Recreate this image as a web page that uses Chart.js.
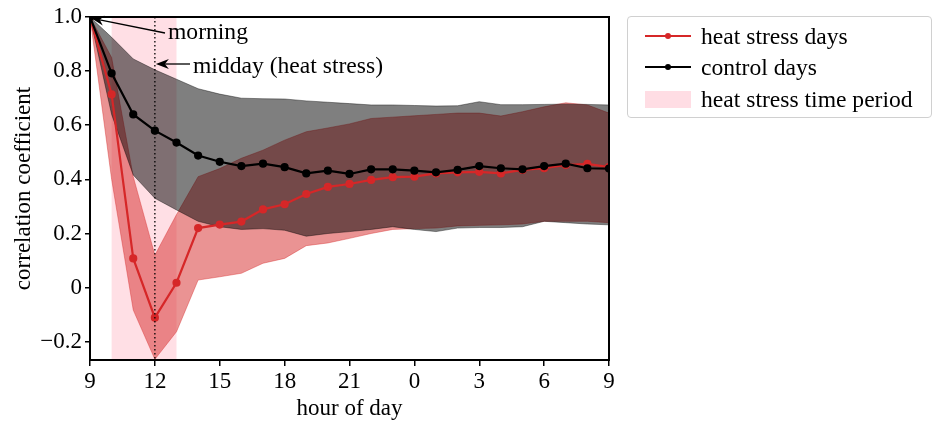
<!DOCTYPE html>
<html>
<head>
<meta charset="utf-8">
<script src="https://cdn.jsdelivr.net/npm/chart.js@4.4.1/dist/chart.umd.min.js"></script>
<style>
  html, body { margin: 0; padding: 0; background: #fff; }
  #wrap { position: relative; width: 935px; height: 423px; }
  canvas { position: absolute; left: 0; top: 0; }
  #legend {
    position: absolute; left: 627px; top: 16px; width: 305px; height: 102px;
    border: 1px solid #d0d0d0; border-radius: 4px; box-sizing: border-box;
    font-family: "Liberation Serif", "Times New Roman", serif; font-size: 23.6px; color: #000;
  }
  .row { position: absolute; left: 0; height: 26px; width: 300px; }
  .row span.txt { position: absolute; left: 73px; top: 0; line-height: 26px; white-space: nowrap; }
  .sample { position: absolute; left: 17px; width: 46px; top: 12px; height: 2.4px; }
  .dot { position: absolute; left: 20px; top: -2px; width: 6px; height: 6px; border-radius: 50%; }
  .patch { position: absolute; left: 17px; width: 46px; top: 5px; height: 17px; background: rgb(255,221,228); }
</style>
</head>
<body>
<div id="wrap">
  <canvas id="c" width="935" height="423"></canvas>
  <div id="legend">
    <div class="row" style="top:6px"><div class="sample" style="background:#d62728"><div class="dot" style="background:#d62728"></div></div><span class="txt">heat stress days</span></div>
    <div class="row" style="top:37px"><div class="sample" style="background:#000"><div class="dot" style="background:#000"></div></div><span class="txt">control days</span></div>
    <div class="row" style="top:69px"><div class="patch"></div><span class="txt">heat stress time period</span></div>
  </div>
</div>
<script>
// hour of day for each sample (from 9 am to 9 am next day)
const hourLabels = [9,10,11,12,13,14,15,16,17,18,19,20,21,22,23,0,1,2,3,4,5,6,7,8,9];

// heat stress days
const heatMean  = [1.0,0.714,0.108,-0.111,0.018,0.22,0.233,0.244,0.289,0.308,0.346,0.372,0.383,0.398,0.408,0.41,0.422,0.426,0.428,0.422,0.435,0.441,0.453,0.457,0.445];
const heatUpper = [1.0,0.85,0.41,0.12,0.27,0.41,0.44,0.478,0.508,0.545,0.576,0.59,0.605,0.625,0.63,0.635,0.64,0.645,0.645,0.634,0.65,0.668,0.683,0.675,0.645];
const heatLower = [1.0,0.40,-0.083,-0.265,-0.163,0.028,0.04,0.053,0.09,0.108,0.155,0.165,0.182,0.20,0.215,0.218,0.22,0.228,0.23,0.232,0.235,0.245,0.245,0.245,0.24];

// control days
const controlMean  = [1.0,0.792,0.64,0.58,0.536,0.488,0.465,0.449,0.458,0.445,0.422,0.432,0.42,0.437,0.437,0.432,0.426,0.435,0.449,0.441,0.437,0.449,0.458,0.441,0.44];
const controlUpper = [1.0,0.925,0.845,0.805,0.77,0.735,0.715,0.70,0.698,0.697,0.69,0.685,0.68,0.675,0.675,0.673,0.671,0.672,0.687,0.676,0.676,0.677,0.678,0.677,0.675];
const controlLower = [1.0,0.64,0.416,0.33,0.287,0.245,0.225,0.215,0.218,0.212,0.19,0.2,0.207,0.215,0.225,0.215,0.207,0.22,0.222,0.222,0.225,0.245,0.24,0.235,0.232];

// axis ticks
const xTickPositions = [0,3,6,9,12,15,18,21,24];
const yTickValues = [-0.2,0,0.2,0.4,0.6,0.8,1.0];
const yTickLabels = ['\u22120.2','0','0.2','0.4','0.6','0.8','1.0'];

// heat stress time period (sample positions) and midday marker
const heatPeriod = [1, 4];
const middayPos = 3;

const FONT = '"Liberation Serif", "Times New Roman", serif';
const pts = arr => arr.map((v, i) => ({x: i, y: v}));

const overlayPlugin = {
  id: 'overlay',
  beforeDatasetsDraw(chart) {
    const {ctx, chartArea: a, scales: {x}} = chart;
    ctx.save();
    ctx.fillStyle = 'rgba(255,192,203,0.5)';
    const x0 = x.getPixelForValue(heatPeriod[0]), x1 = x.getPixelForValue(heatPeriod[1]);
    ctx.fillRect(x0, a.top, x1 - x0, a.bottom - a.top);
    ctx.restore();
  },
  afterDatasetsDraw(chart) {
    const {ctx, chartArea: a, scales: {x, y}} = chart;
    ctx.save();
    // dotted midday line
    const xm = x.getPixelForValue(middayPos);
    ctx.strokeStyle = '#000'; ctx.lineWidth = 1.3; ctx.setLineDash([1.5, 2.5]);
    ctx.beginPath(); ctx.moveTo(xm, a.top); ctx.lineTo(xm, a.bottom); ctx.stroke();
    ctx.setLineDash([]);
    // frame
    ctx.lineWidth = 2;
    ctx.strokeRect(a.left, a.top, a.right - a.left, a.bottom - a.top);
    // annotations
    function arrow(fx, fy, tx, ty) {
      ctx.strokeStyle = '#000'; ctx.fillStyle = '#000'; ctx.lineWidth = 1.3;
      const ang = Math.atan2(ty - fy, tx - fx);
      const L = 13, W = 5;
      const bx = tx - Math.cos(ang) * L, by = ty - Math.sin(ang) * L;
      ctx.beginPath(); ctx.moveTo(fx, fy); ctx.lineTo(bx + Math.cos(ang) * 4, by + Math.sin(ang) * 4); ctx.stroke();
      ctx.beginPath();
      ctx.moveTo(tx, ty);
      ctx.lineTo(bx - Math.sin(ang) * W, by + Math.cos(ang) * W);
      ctx.lineTo(bx + Math.cos(ang) * 4, by + Math.sin(ang) * 4);
      ctx.lineTo(bx + Math.sin(ang) * W, by - Math.cos(ang) * W);
      ctx.closePath(); ctx.fill();
    }
    const px0 = x.getPixelForValue(0), py0 = y.getPixelForValue(1.0);
    arrow(165, 33, px0 + 1, py0 + 1);
    arrow(190, 64, xm + 1, 64);
    ctx.fillStyle = '#000';
    ctx.font = '23.6px ' + FONT;
    ctx.textBaseline = 'alphabetic'; ctx.textAlign = 'left';
    ctx.fillText('morning', 168, 39);
    ctx.fillText('midday (heat stress)', 193, 73);
    ctx.restore();
  }
};

new Chart(document.getElementById('c'), {
  type: 'line',
  data: {
    datasets: [
      { label: 'heat stress days', data: pts(heatMean), borderColor: '#d62728', backgroundColor: '#d62728',
        borderWidth: 2.2, pointRadius: 3, pointHoverRadius: 3, fill: false, order: 1 },
      { label: 'control days', data: pts(controlMean), borderColor: '#000', backgroundColor: '#000',
        borderWidth: 2.2, pointRadius: 3, pointHoverRadius: 3, fill: false, order: 0 },
      { label: 'heat upper', data: pts(heatUpper), borderColor: 'rgba(214,39,40,0.5)', borderWidth: 0.8,
        backgroundColor: 'rgba(214,39,40,0.5)', pointRadius: 0, fill: '+1', order: 4 },
      { label: 'heat lower', data: pts(heatLower), borderColor: 'rgba(214,39,40,0.5)', borderWidth: 0.8,
        pointRadius: 0, fill: false, order: 4 },
      { label: 'control upper', data: pts(controlUpper), borderColor: 'rgba(0,0,0,0.5)', borderWidth: 0.8,
        backgroundColor: 'rgba(0,0,0,0.5)', pointRadius: 0, fill: '+1', order: 3 },
      { label: 'control lower', data: pts(controlLower), borderColor: 'rgba(0,0,0,0.5)', borderWidth: 0.8,
        pointRadius: 0, fill: false, order: 3 }
    ]
  },
  options: {
    responsive: false,
    animation: false,
    devicePixelRatio: 1,
    layout: { padding: { left: 0, top: 17, right: 326, bottom: 0 } },
    plugins: { legend: { display: false }, tooltip: { enabled: false } },
    elements: { line: { tension: 0 } },
    scales: {
      x: {
        type: 'linear', min: 0, max: 24,
        afterBuildTicks: s => { s.ticks = xTickPositions.map(v => ({value: v})); },
        afterFit: s => { s.height = 63; },
        ticks: { callback: v => String(hourLabels[v]), color: '#000', font: { family: FONT, size: 23 }, padding: 2, maxRotation: 0, autoSkip: false },
        grid: { drawOnChartArea: false, drawTicks: true, tickLength: 6, color: '#000', lineWidth: 1.5 },
        border: { display: true, color: '#000', width: 2 },
        title: { display: true, text: 'hour of day', color: '#000', font: { family: FONT, size: 23 }, padding: { top: 1, bottom: 0 } }
      },
      y: {
        type: 'linear', min: -0.2675, max: 1.0,
        afterBuildTicks: s => { s.ticks = yTickValues.map(v => ({value: v})); },
        afterFit: s => { s.width = 90; },
        ticks: { callback: v => yTickLabels[yTickValues.indexOf(v)], color: '#000', font: { family: FONT, size: 23 }, padding: 3, autoSkip: false },
        grid: { drawOnChartArea: false, drawTicks: true, tickLength: 5, color: '#000', lineWidth: 1.5 },
        border: { display: true, color: '#000', width: 2 },
        title: { display: true, text: 'correlation coefficient', color: '#000', font: { family: FONT, size: 23 }, padding: { top: 10, bottom: 0 } }
      }
    }
  },
  plugins: [overlayPlugin]
});
</script>
</body>
</html>
